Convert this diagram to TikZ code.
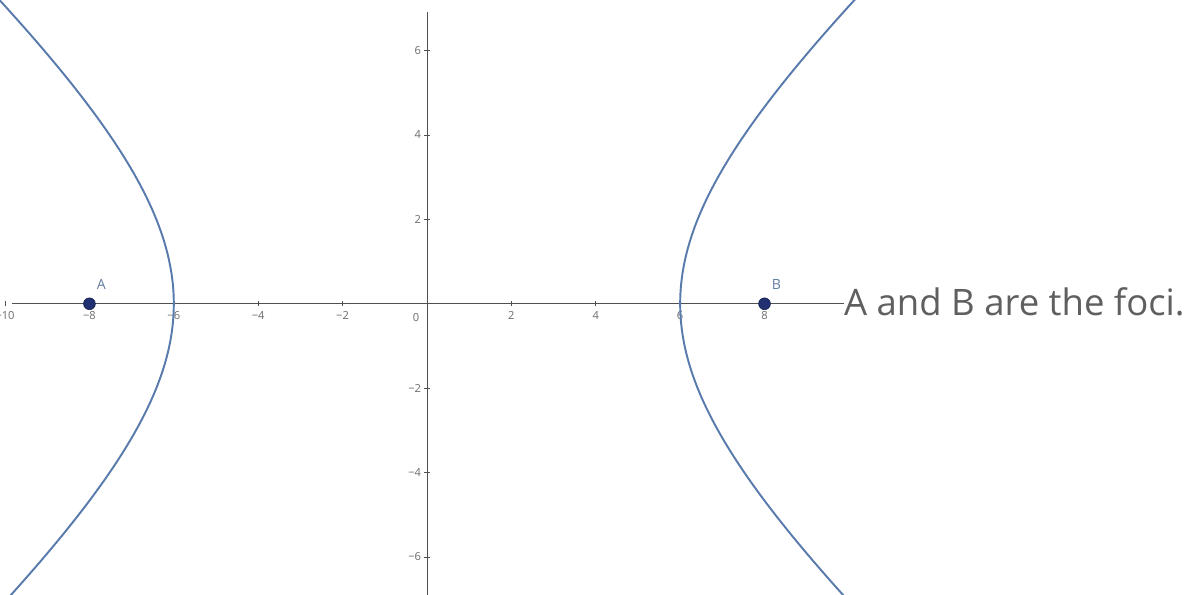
\documentclass[tikz,border=0pt]{standalone}
\usepackage{fontspec}
\newfontfamily\notefont{Open Sans}
\newfontfamily\tickfont{Open Sans}
\usetikzlibrary{positioning}
\definecolor{CurveBlue}{RGB}{88,122,172}
\definecolor{FocusBlue}{RGB}{32,48,112}
\definecolor{AxisGray}{RGB}{80,80,80}
\definecolor{LabelGray}{RGB}{95,95,95}
\tikzset{
  axisline/.style={AxisGray, line width=0.6pt},
  tickmark/.style={AxisGray, line width=0.4pt},
  branch/.style={CurveBlue, line width=1.3pt},
  ticklab/.style={font=\tickfont\fontsize{7.5}{8}\selectfont, text=gray!85!black, inner sep=1pt},
  focus/.style={circle, fill=FocusBlue, draw=FocusBlue!70!black, minimum size=0.28cm, inner sep=0pt},
  focuslab/.style={font=\tickfont\fontsize{9.5}{10}\selectfont, text=CurveBlue!70!gray, inner sep=0pt},
  note/.style={font=\notefont\fontsize{24.6}{28}\selectfont, text=LabelGray, inner sep=0pt},
}

\begin{document}
\begin{tikzpicture}
  \useasboundingbox (-10.12,-6.90) rectangle (18.25,7.20);
  \clip (-10.12,-6.90) rectangle (18.25,7.20);
  \fill[white] (-10.12,-6.90) rectangle (18.25,7.20);
  % note at the end of the x axis
  \node[note, anchor=base west] (note) at (9.88,-0.27) {A and B are the foci.};
  \coordinate (xstart) at (-9.83,0);
  \coordinate (ytop) at (0,6.92);
  \coordinate (ybot) at (0,-6.95);
  \draw[axisline] (xstart) -- (xstart -| note.west);
  \draw[axisline] (ybot) -- (ytop);
  % ticks and labels
  \foreach \x/\lab in {-10/−10,-8/−8,-6/−6,-4/−4,-2/−2,2/2,4/4,6/6,8/8}
    \draw[tickmark] (\x,0.06) -- (\x,-0.06) node[ticklab, below=0.08cm] {\lab};
  \node[ticklab] at (-0.26,-0.33) {0};
  \foreach \y/\lab in {-6/−6,-4/−4,-2/−2,2/2,4/4,6/6}
    \draw[tickmark] (0.06,\y) -- (-0.06,\y) node[ticklab, left=0.04cm] {\lab};
  % the two branches
  \draw[branch] plot[domain=-1.16:1.16, samples=120, smooth] ({6*cosh(\x)},{sqrt(28)*sinh(\x)});
  \draw[branch] plot[domain=-1.16:1.16, samples=120, smooth] ({-6*cosh(\x)},{sqrt(28)*sinh(\x)});
  % foci
  \node[focus] (A) at (-8,0) {};
  \node[focus] (B) at (8,0) {};
  \node[focuslab] (Alab) at (-7.72,0.45) {A};
  \node[focuslab] (Blab) at (8.28,0.45) {B};
\end{tikzpicture}
\end{document}
